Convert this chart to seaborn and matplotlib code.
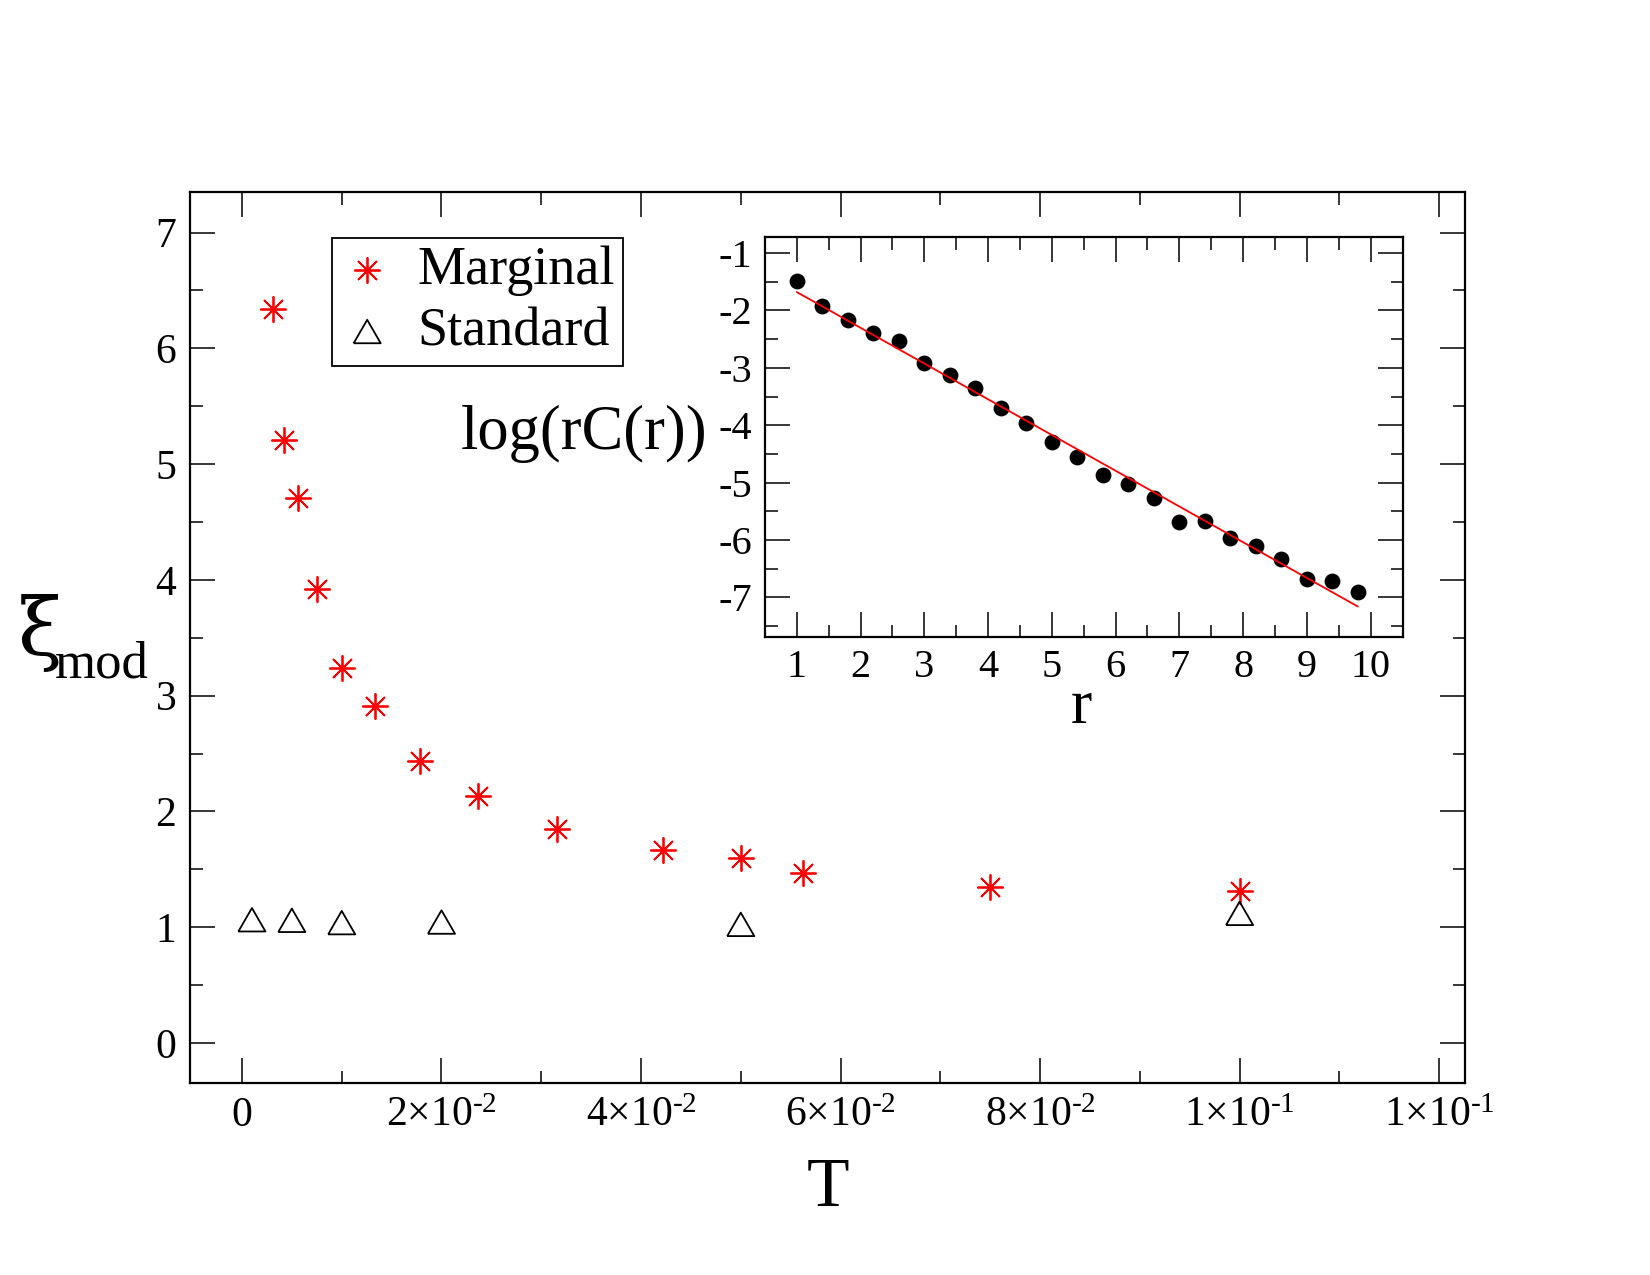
import matplotlib
matplotlib.use("Agg")
import matplotlib.pyplot as plt
import seaborn as sns
from matplotlib.ticker import MultipleLocator, FixedLocator, FixedFormatter

# main panel: correlation length vs temperature
T_MARGINAL = [0.00316, 0.00422, 0.00562, 0.0075, 0.01, 0.0133, 0.0178, 0.0237,
              0.0316, 0.0422, 0.05, 0.0562, 0.075, 0.1]
XI_MARGINAL = [6.34, 5.21, 4.71, 3.92, 3.24, 2.91, 2.44, 2.13,
               1.85, 1.67, 1.60, 1.47, 1.35, 1.31]
T_STANDARD = [0.001, 0.005, 0.01, 0.02, 0.05, 0.1]
XI_STANDARD = [1.065, 1.06, 1.04, 1.045, 1.025, 1.12]

# inset: log(rC(r)) vs r with linear fit
R_VALUES = [1.0, 1.4, 1.8, 2.2, 2.6, 3.0, 3.4, 3.8, 4.2, 4.6, 5.0, 5.4,
            5.8, 6.2, 6.6, 7.0, 7.4, 7.8, 8.2, 8.6, 9.0, 9.4, 9.8]
LOG_RC = [-1.48, -1.93, -2.16, -2.39, -2.54, -2.92, -3.13, -3.35, -3.70, -3.96,
          -4.29, -4.55, -4.87, -5.02, -5.27, -5.68, -5.67, -5.96, -6.11, -6.34,
          -6.68, -6.71, -6.90]
FIT_R = [1.0, 9.8]
FIT_LOG_RC = [-1.68, -7.16]

T_TICKS = [0, 0.02, 0.04, 0.06, 0.08, 0.10, 0.12]
T_TICK_LABELS = ["0", r"2×10$^{\text{-2}}$", r"4×10$^{\text{-2}}$", r"6×10$^{\text{-2}}$",
                 r"8×10$^{\text{-2}}$", r"1×10$^{\text{-1}}$", r"1×10$^{\text{-1}}$"]
XI_TICKS = [0, 1, 2, 3, 4, 5, 6, 7]
R_TICKS = [1, 2, 3, 4, 5, 6, 7, 8, 9, 10]
LOG_TICKS = [-1, -2, -3, -4, -5, -6, -7]

sns.set_style("ticks")
plt.rcParams["font.family"] = ["Liberation Serif", "DejaVu Serif"]
plt.rcParams["mathtext.fontset"] = "custom"
plt.rcParams["mathtext.rm"] = "Liberation Serif"
plt.rcParams["mathtext.it"] = "Liberation Serif:italic"
plt.rcParams["mathtext.bf"] = "Liberation Serif:bold"
plt.rcParams["axes.unicode_minus"] = False
for key in ["text.color", "axes.labelcolor", "xtick.color", "ytick.color",
            "xtick.labelcolor", "ytick.labelcolor", "axes.edgecolor"]:
    plt.rcParams[key] = "black"

TRIANGLE = [(-1, -0.866), (1, -0.866), (0, 0.866), (-1, -0.866)]


def style_axes(ax, label_size, pad):
    for sp in ax.spines.values():
        sp.set_linewidth(1.6)
        sp.set_color("black")
    ax.tick_params(which="both", direction="in", top=True, right=True,
                   color="black", labelcolor="black", width=1.1)
    ax.tick_params(which="major", length=18, labelsize=label_size, pad=pad)
    ax.tick_params(which="minor", length=9)


fig = plt.figure(figsize=(16.5, 12.75), dpi=100)
ax = fig.add_axes([0.1152, 0.1506, 0.7727, 0.6992])

sns.scatterplot(x=T_MARGINAL, y=XI_MARGINAL, marker=(8, 2, 0), s=330,
                color="red", edgecolor="red", linewidth=1.3,
                label="Marginal", ax=ax)
sns.scatterplot(x=T_STANDARD, y=XI_STANDARD, marker=TRIANGLE, s=380,
                facecolor="none", edgecolor="black", linewidth=1.3,
                label="Standard", ax=ax)

ax.set_xlim(-0.0052, 0.1226)
ax.set_ylim(-0.345, 7.355)
ax.xaxis.set_major_locator(FixedLocator(T_TICKS))
ax.xaxis.set_major_formatter(FixedFormatter(T_TICK_LABELS))
ax.xaxis.set_minor_locator(MultipleLocator(0.01))
ax.yaxis.set_major_locator(FixedLocator(XI_TICKS))
ax.yaxis.set_minor_locator(MultipleLocator(0.5))
style_axes(ax, 30, 10)

ax.set_xlabel("T", fontsize=50, va="baseline")
ax.xaxis.set_label_coords(0.5, -0.138)
# y label: big xi with a smaller "mod" subscript
ax.set_ylabel("ξ", fontsize=58, family="DejaVu Serif", rotation=0,
              ha="left", va="baseline")
ax.yaxis.set_label_coords(-0.135, 0.480)
ax.text(-0.106, 0.455, "mod", fontsize=38, ha="left", va="baseline",
        transform=ax.transAxes)

leg = ax.legend(loc="upper left", bbox_to_anchor=(0.2012, 0.8135),
                bbox_transform=fig.transFigure, borderaxespad=0,
                fontsize=39, frameon=True, fancybox=False, framealpha=1,
                edgecolor="black", borderpad=0.15, handlelength=1.0,
                handletextpad=0.42, labelspacing=0.2, scatterpoints=1)
leg.get_frame().set_linewidth(1.3)

# inset
ins = fig.add_axes([0.4636, 0.5007, 0.3864, 0.3137])
sns.scatterplot(x=R_VALUES, y=LOG_RC, color="black", s=130, linewidth=0, ax=ins)
sns.lineplot(x=FIT_R, y=FIT_LOG_RC, color="red", linewidth=1.3, ax=ins)
ins.set_xlim(0.5, 10.5)
ins.set_ylim(-7.684, -0.714)
ins.xaxis.set_major_locator(FixedLocator(R_TICKS))
ins.xaxis.set_minor_locator(MultipleLocator(0.5))
ins.yaxis.set_major_locator(FixedLocator(LOG_TICKS))
ins.yaxis.set_minor_locator(MultipleLocator(0.5))
style_axes(ins, 29, 9)

ins.set_xlabel("r", fontsize=46, va="baseline")
ins.xaxis.set_label_coords(0.497, -0.215)
ins.set_ylabel("log(rC(r))", fontsize=45, rotation=0, ha="right", va="center")
ins.yaxis.set_label_coords(-0.09, 0.506)

fig.savefig("out.png", dpi=100)
